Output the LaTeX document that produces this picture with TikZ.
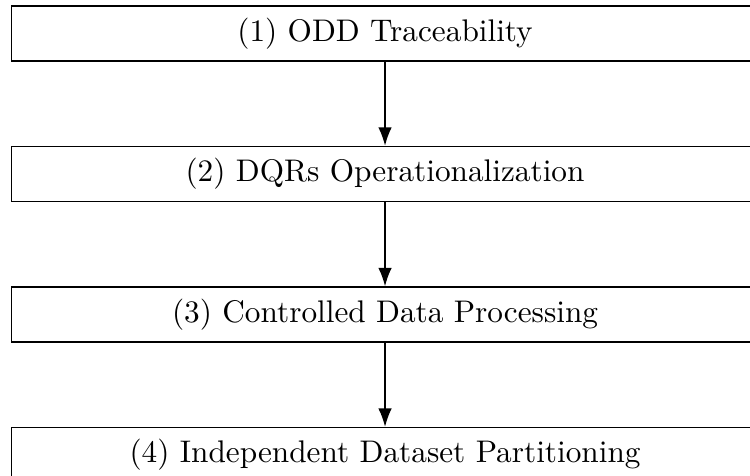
\documentclass[tikz,border=0pt]{standalone}
\usepackage{tikz}
\usetikzlibrary{arrows.meta, positioning}

\begin{document}
\begin{tikzpicture}[
    node distance=0.963cm,
    line width=0.5pt,
    stagebox/.style={rectangle, draw=black, fill=white,
                 minimum width=8.57cm, minimum height=0.631cm,
                 font=\fontsize{10.2pt}{12pt}\selectfont,
                 align=center, inner sep=2pt},
    flowarrow/.style={-{Latex[length=6pt, width=4.4pt]}},
  ]
    \useasboundingbox (0,0) rectangle (8.60,-5.45);

    \node[stagebox] (s1) at (4.415,-0.384) {(1) ODD Traceability};
    \node[stagebox, below=of s1] (s2) {(2) DQRs Operationalization};
    \node[stagebox, below=of s2] (s3) {(3) Controlled Data Processing};
    \node[stagebox, below=of s3] (s4) {(4) Independent Dataset Partitioning};

    \draw[flowarrow] (s1) -- (s2);
    \draw[flowarrow] (s2) -- (s3);
    \draw[flowarrow] (s3) -- (s4);
  \end{tikzpicture}
\end{document}
